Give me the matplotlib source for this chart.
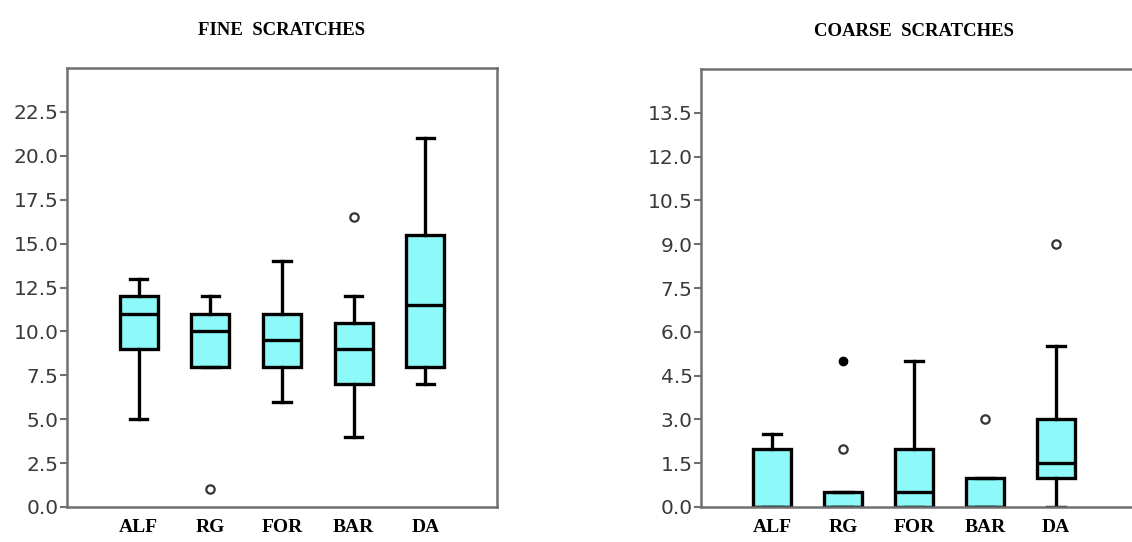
import matplotlib.pyplot as plt

groups = ['ALF', 'RG', 'FOR', 'BAR', 'DA']

# fine scratches
fine_whislo = [5, 8, 6, 4, 7]
fine_q1 = [9, 8, 8, 7, 8]
fine_med = [11, 10, 9.5, 9, 11.5]
fine_q3 = [12, 11, 11, 10.5, 15.5]
fine_whishi = [13, 12, 14, 12, 21]
fine_fliers = [[], [1], [], [16.5], []]

# coarse scratches
coarse_whislo = [0, 0, 0, 0, 0]
coarse_q1 = [0, 0, 0, 0, 1]
coarse_med = [0, 0, 0.5, 0, 1.5]
coarse_q3 = [2, 0.5, 2, 1, 3]
coarse_whishi = [2.5, 0.5, 5, 1, 5.5]
coarse_fliers = [[], [2], [], [3], [9]]
coarse_extremes = [[], [5], [], [], []]

BOX_COLOR = '#8ef9f9'
TICK_COLOR = '#3a3a3a'
SPINE_COLOR = '#707070'


def make_stats(lo, q1, med, q3, hi, fliers):
    stats = []
    for i in range(len(groups)):
        stats.append({'whislo': lo[i], 'q1': q1[i], 'med': med[i], 'q3': q3[i],
                      'whishi': hi[i], 'fliers': fliers[i], 'label': groups[i]})
    return stats


def draw(ax, stats, title, ymax, step, extremes=None):
    pos = list(range(1, len(groups) + 1))
    ax.bxp(stats, positions=pos, widths=0.53, capwidths=0.24, patch_artist=True,
           boxprops=dict(facecolor=BOX_COLOR, edgecolor='black', linewidth=2.4),
           medianprops=dict(color='black', linewidth=2.4),
           whiskerprops=dict(color='black', linewidth=2.4),
           capprops=dict(color='black', linewidth=2.4),
           flierprops=dict(marker='o', markersize=6, markerfacecolor='white',
                           markeredgecolor='#333333', markeredgewidth=1.6))
    if extremes:
        for p, vals in zip(pos, extremes):
            if vals:
                ax.plot([p] * len(vals), vals, 'o', color='black', markersize=6, zorder=5)
    ax.set_ylim(0, ymax)
    ticks = [step * k for k in range(int(round(ymax / step)))]
    ax.set_yticks(ticks, [f'{t:.1f}' for t in ticks])
    ax.tick_params(axis='y', direction='out', length=5, width=1.5, color=SPINE_COLOR,
                   labelsize=14.5, labelcolor=TICK_COLOR, pad=1)
    ax.tick_params(axis='x', length=0, pad=9)
    for lbl in ax.get_xticklabels():
        lbl.set_fontfamily('Liberation Serif')
        lbl.set_fontweight('bold')
        lbl.set_fontsize(14)
    for s in ax.spines.values():
        s.set_color(SPINE_COLOR)
        s.set_linewidth(1.8)
    ax.set_title(title, family='Liberation Serif', fontweight='bold', fontsize=13.5,
                 pad=24)


fig = plt.figure(figsize=(11.32, 5.42), dpi=100)
ax1 = fig.add_axes([67 / 1132, 35 / 542, 430 / 1132, 439 / 542])
ax2 = fig.add_axes([701 / 1132, 35 / 542, 440 / 1132, 438 / 542])

draw(ax1, make_stats(fine_whislo, fine_q1, fine_med, fine_q3, fine_whishi, fine_fliers),
     'FINE  SCRATCHES', 25, 2.5)
ax1.set_xlim(0, 6)

draw(ax2, make_stats(coarse_whislo, coarse_q1, coarse_med, coarse_q3, coarse_whishi, coarse_fliers),
     'COARSE  SCRATCHES', 15, 1.5, coarse_extremes)
ax2.set_xlim(0, 440 / 71)
ax2.spines['right'].set_visible(False)
ax2.title.set_position((426 / 440 / 2, 1.0))

fig.savefig('out.png', dpi=100)
